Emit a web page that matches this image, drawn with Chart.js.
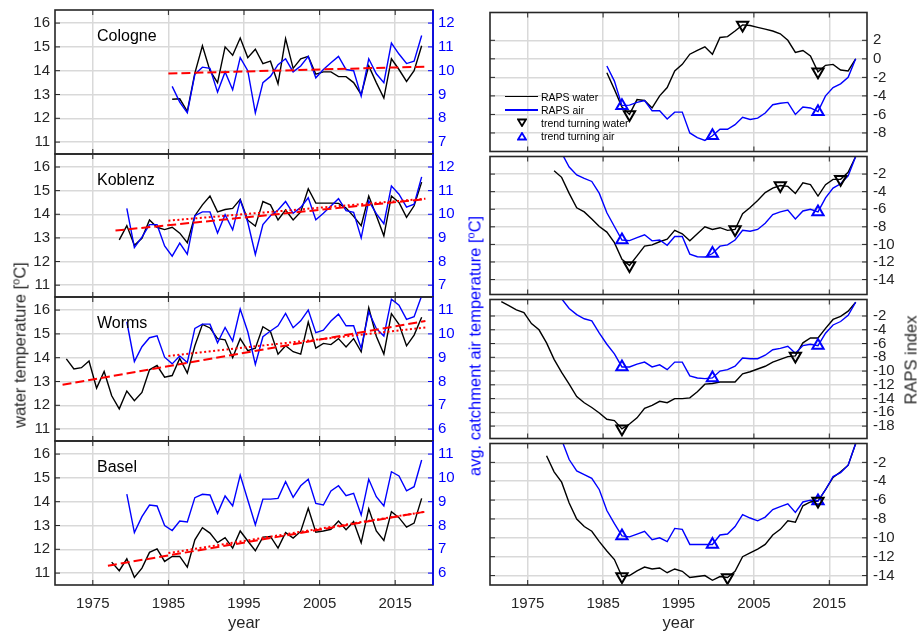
<!DOCTYPE html>
<html>
<head>
<meta charset="utf-8">
<script src="https://cdn.jsdelivr.net/npm/chart.js@4.4.0/dist/chart.umd.min.js"></script>
<style>
  body { margin: 0; background: #fff; }
  #fig { position: relative; width: 919px; height: 633px; font-family: 'Liberation Sans', Arial, sans-serif; color: #262626; overflow: hidden; }
  #fig canvas { position: absolute; }
  .lbl { position: absolute; font-size: 16.5px; line-height: 19px; white-space: nowrap; }
  .rot { transform: translate(-50%, -50%) rotate(-90deg); }
  .lbl sup { font-size: 11px; line-height: 0; }
  .name { font-size: 16px; color: #000; }
  #legend { position: absolute; left: 505px; top: 90px; font-size: 10.5px; color: #000; }
  #legend .row { display: flex; align-items: center; height: 13.2px; }
  #legend .sym { width: 33px; margin-right: 3px; display: flex; justify-content: center; align-items: center; }
  #legend .ln { width: 33px; height: 1.5px; }
</style>
</head>
<body>
<div id="fig"></div>
<script>
// ===== Data (annual values, plotted at mid-year) =====
const xTicks = [1975, 1985, 1995, 2005, 2015];
const trendEnd = 2019;
const since85 = 1985;

// Cologne
const cologneWaterStart = 1985;
const cologneWater = [12.8, 12.82, 12.29, 13.9, 15.05, 14.0, 13.5, 15.0, 14.65, 15.37, 14.55, 14.9, 14.3, 14.4, 13.45, 15.35, 14.1, 14.5, 14.6, 13.85, 13.95, 13.95, 13.75, 13.75, 13.5, 13.0, 14.2, 13.5, 12.85, 14.5, 14.05, 13.55, 14.0, 15.05];
const cologneAirStart = 1985;
const cologneAir = [9.34, 8.68, 8.23, 9.85, 10.15, 10.1, 9.1, 9.95, 9.2, 10.55, 10.0, 8.23, 9.5, 9.76, 10.25, 10.5, 9.95, 10.2, 10.6, 9.7, 10.05, 10.33, 10.6, 10.05, 10.0, 8.93, 10.5, 9.87, 9.5, 11.16, 10.7, 10.3, 10.4, 11.48];
const cologneTrend = [13.88, 14.17];
const cologneRapsWater = [-1.5, -3.3, -5.2, -6.0, -4.4, -4.5, -5.3, -4.0, -3.1, -1.3, -0.6, 0.5, 0.9, 1.3, 0.5, 2.3, 2.4, 3.0, 3.66, 3.6, 3.4, 3.2, 3.0, 2.7, 2.0, 0.7, 0.9, 0.3, -1.4, -0.7, -0.6, -1.2, -1.3, 0];
const cologneRapsAir = [-0.77, -2.4, -5.05, -5.0, -4.7, -4.5, -5.6, -5.6, -6.5, -5.75, -5.75, -8.0, -8.5, -8.8, -8.3, -7.6, -7.6, -7.1, -6.3, -6.55, -6.4, -5.85, -4.95, -4.8, -4.7, -6.0, -5.2, -5.3, -5.7, -4.0, -3.1, -2.7, -2.0, 0];
const cologneTurnWater = [1988, 2003, 2013];
const cologneTurnAir = [1987, 1999, 2013];

// Koblenz
const koblenzWaterStart = 1978;
const koblenzWater = [12.92, 13.52, 12.69, 12.98, 13.76, 13.45, 13.35, 13.45, 13.2, 12.8, 13.94, 14.4, 14.77, 14.1, 14.2, 14.25, 14.63, 13.75, 13.5, 14.54, 14.4, 13.76, 14.18, 13.76, 14.1, 15.08, 14.47, 14.47, 14.47, 14.46, 14.26, 13.91, 13.52, 14.77, 13.95, 13.09, 14.77, 14.5, 13.87, 14.36, 15.36];
const koblenzAirStart = 1979;
const koblenzAir = [10.25, 8.59, 9.03, 9.56, 9.56, 8.66, 8.23, 8.78, 8.31, 9.94, 10.1, 10.1, 9.21, 9.98, 9.34, 10.6, 9.66, 8.3, 9.56, 9.94, 10.18, 10.54, 10.04, 10.29, 10.7, 9.77, 10.04, 10.35, 10.66, 10.15, 10.08, 9.0, 10.57, 10.03, 9.6, 11.2, 10.85, 10.3, 10.43, 11.58];
const koblenzTrend = [13.31, 14.64];
const koblenzTrend85 = [13.73, 14.66];
const koblenzRapsWater = [-1.63, -2.37, -4.2, -5.84, -6.3, -7.1, -7.96, -8.6, -9.8, -11.7, -12.4, -11.3, -10.2, -10.05, -9.7, -9.4, -8.4, -8.8, -9.6, -8.8, -8.0, -8.3, -8.1, -8.4, -8.3, -6.5, -5.8, -5.0, -4.1, -3.6, -3.3, -3.4, -4.2, -3.0, -3.2, -4.5, -3.2, -2.6, -2.6, -1.8, 0];
const koblenzRapsAir = [0.4, -1.2, -2.1, -2.5, -2.84, -4.2, -6.4, -7.96, -9.5, -9.57, -9.24, -8.9, -9.6, -9.5, -10.1, -9.1, -9.1, -11.1, -11.4, -11.44, -11.04, -10.2, -10.05, -9.5, -8.4, -8.5, -8.3, -7.6, -6.6, -6.3, -6.1, -7.1, -6.2, -6.0, -6.3, -4.7, -3.6, -3.1, -2.2, 0];
const koblenzTurnWater = [1988, 2002, 2008, 2016];
const koblenzTurnAir = [1987, 1999, 2013];

// Worms
const wormsWaterStart = 1971;
const wormsWater = [13.95, 13.53, 13.58, 13.86, 12.72, 13.42, 12.4, 11.85, 12.6, 12.19, 12.54, 13.49, 13.67, 13.18, 13.25, 13.97, 13.35, 14.5, 15.4, 15.25, 14.8, 14.75, 14.0, 14.8, 14.3, 14.4, 15.3, 15.1, 14.15, 14.5, 14.25, 14.15, 15.5, 14.4, 14.6, 14.55, 14.8, 14.45, 14.8, 14.25, 16.1, 14.9, 14.15, 15.85, 15.4, 14.5, 14.95, 15.7];
const wormsAirStart = 1979;
const wormsAir = [10.51, 8.84, 9.46, 9.84, 9.92, 9.02, 8.74, 9.07, 8.8, 10.23, 10.41, 10.41, 9.63, 10.27, 9.7, 11.04, 10.09, 8.72, 9.88, 10.12, 10.34, 10.86, 10.26, 10.55, 11.0, 10.05, 10.16, 10.54, 10.83, 10.34, 10.34, 9.39, 10.93, 10.23, 9.91, 11.46, 11.21, 10.61, 10.72, 11.6];
const wormsTrend = [12.86, 15.54];
const wormsTrend85 = [14.07, 15.27];
const wormsRapsWater = [0.1, -0.5, -1.1, -1.5, -3.1, -4.0, -5.9, -8.3, -10.2, -11.9, -13.7, -14.6, -15.3, -16.1, -17.0, -17.2, -18.4, -17.7, -16.8, -15.4, -15.0, -14.4, -14.6, -14.0, -14.0, -13.9, -13.0, -11.9, -11.8, -11.6, -11.6, -11.6, -10.4, -10.1, -9.7, -9.3, -8.7, -8.3, -7.9, -7.8, -5.9, -5.2, -5.2, -3.8, -2.5, -2.05, -1.3, 0];
const wormsRapsAir = [0.5, -0.9, -1.8, -2.4, -2.7, -4.5, -6.1, -7.5, -9.4, -9.4, -9.0, -8.7, -9.4, -9.1, -9.8, -8.7, -8.7, -10.7, -11.0, -11.1, -11.0, -10.0, -9.8, -9.3, -8.1, -8.2, -8.2, -7.7, -6.9, -6.7, -6.4, -7.4, -6.3, -6.1, -6.3, -4.5, -3.3, -2.8, -1.9, 0];
const wormsTurnWater = [1987, 2010];
const wormsTurnAir = [1987, 1999, 2013];

// Basel
const baselWaterStart = 1977;
const baselWater = [11.46, 11.1, 11.6, 10.82, 11.21, 11.87, 12.02, 11.49, 11.7, 11.7, 11.25, 12.4, 12.91, 12.68, 12.28, 12.49, 12.05, 12.77, 12.35, 11.94, 12.51, 12.54, 12.05, 12.7, 12.47, 12.75, 13.72, 12.72, 12.77, 12.84, 13.19, 12.82, 13.16, 12.28, 13.7, 12.77, 12.37, 13.58, 13.33, 12.93, 13.1, 14.14];
const baselAirStart = 1979;
const baselAir = [9.32, 7.7, 8.37, 8.86, 8.82, 8.0, 7.79, 8.19, 8.15, 9.17, 9.31, 9.28, 8.51, 9.24, 8.82, 10.12, 9.07, 8.03, 9.11, 9.11, 9.14, 9.84, 9.18, 9.67, 9.94, 8.93, 8.86, 9.45, 9.67, 9.25, 9.35, 8.44, 9.94, 9.21, 8.82, 10.26, 10.08, 9.46, 9.63, 10.75];
const baselTrend = [11.31, 13.58];
const baselTrend85 = [11.84, 13.58];
const baselRapsWater = [-1.3, -3.0, -4.1, -6.3, -8.0, -8.8, -9.3, -10.4, -11.4, -12.3, -14.1, -14.0, -13.5, -13.1, -13.3, -13.2, -13.7, -13.3, -13.55, -14.2, -14.1, -14.0, -14.5, -14.1, -14.2, -13.55, -12.0, -11.6, -11.2, -10.7, -9.7, -9.1, -8.2, -8.35, -6.6, -6.2, -6.1, -4.9, -3.6, -3.0, -2.3, 0];
const baselRapsAir = [0.4, -1.7, -2.9, -3.3, -3.7, -4.9, -7.1, -8.5, -9.8, -9.9, -9.6, -9.3, -10.2, -10.0, -10.4, -9.0, -9.1, -10.7, -10.7, -10.7, -10.7, -9.7, -9.6, -8.8, -7.55, -7.9, -8.2, -7.8, -7.0, -6.7, -6.4, -7.3, -6.2, -6.0, -6.1, -4.9, -3.5, -3.1, -2.3, 0];
const baselTurnWater = [1987, 2001, 2013];
const baselTurnAir = [1987, 1999, 2013];

// axis ticks
const waterTicks = [11, 12, 13, 14, 15, 16];
const airTicksHigh = [7, 8, 9, 10, 11, 12];
const airTicksLow = [6, 7, 8, 9, 10, 11];
const rapsTicks1 = [-8, -6, -4, -2, 0, 2];
const rapsTicks2 = [-14, -12, -10, -8, -6, -4, -2];
const rapsTicks3 = [-18, -16, -14, -12, -10, -8, -6, -4, -2];
const rapsTicks4 = [-14, -12, -10, -8, -6, -4, -2];

// ===== Colors =====
const colors = {
    water: '#000000',
    air: '#0000ff',
    trend: '#ff0000',
    axis: '#262626',
    grid: '#d9d9d9'
};

// ===== Panel table =====
const stations = [
    { name: 'Cologne', wStart: cologneWaterStart, water: cologneWater, aStart: cologneAirStart, air: cologneAir,
      trend: cologneTrend, trend85: null, airMin: 6.5, airTicks: airTicksHigh,
      rW: cologneRapsWater, rA: cologneRapsAir, tW: cologneTurnWater, tA: cologneTurnAir, rMin: -10, rMax: 5, rTicks: rapsTicks1 },
    { name: 'Koblenz', wStart: koblenzWaterStart, water: koblenzWater, aStart: koblenzAirStart, air: koblenzAir,
      trend: koblenzTrend, trend85: koblenzTrend85, airMin: 6.5, airTicks: airTicksHigh,
      rW: koblenzRapsWater, rA: koblenzRapsAir, tW: koblenzTurnWater, tA: koblenzTurnAir, rMin: -15.7, rMax: 0, rTicks: rapsTicks2 },
    { name: 'Worms', wStart: wormsWaterStart, water: wormsWater, aStart: wormsAirStart, air: wormsAir,
      trend: wormsTrend, trend85: wormsTrend85, airMin: 5.5, airTicks: airTicksLow,
      rW: wormsRapsWater, rA: wormsRapsAir, tW: wormsTurnWater, tA: wormsTurnAir, rMin: -19.8, rMax: 0.4, rTicks: rapsTicks3 },
    { name: 'Basel', wStart: baselWaterStart, water: baselWater, aStart: baselAirStart, air: baselAir,
      trend: baselTrend, trend85: baselTrend85, airMin: 5.5, airTicks: airTicksLow,
      rW: baselRapsWater, rA: baselRapsAir, tW: baselTurnWater, tA: baselTurnAir, rMin: -15, rMax: 0, rTicks: rapsTicks4 }
];

// ===== Layout (pixels) =====
const panelTop = [10, 154, 297, 441];
const panelBottom = [154, 297, 441, 585];
const pad = 6;
const waterSpan = 6.05;

Chart.defaults.font.family = "'Liberation Sans', Arial, sans-serif";
Chart.defaults.font.size = 15;
Chart.defaults.color = colors.axis;

function pts(start, vals) {
    return vals.map((v, i) => ({ x: start + i + 0.5, y: v }));
}

function pick(start, vals, years) {
    return years.map(yr => ({ x: yr + 0.5, y: vals[yr - start] }));
}

// ===== Box + inward ticks =====
const framePlugin = {
    id: 'frame',
    afterDatasetsDraw(chart, args, o) {
        const { ctx, chartArea: a, scales } = chart;
        const tl = 5;
        ctx.save();
        ctx.lineWidth = 1;
        ctx.strokeStyle = colors.axis;
        ctx.beginPath();
        scales.x.ticks.forEach(t => {
            const px = scales.x.getPixelForValue(t.value);
            ctx.moveTo(px, a.bottom); ctx.lineTo(px, a.bottom - tl);
            ctx.moveTo(px, a.top); ctx.lineTo(px, a.top + tl);
        });
        const yl = scales.y;
        yl.ticks.forEach(t => {
            const py = yl.getPixelForValue(t.value);
            ctx.moveTo(a.left, py); ctx.lineTo(a.left + tl, py);
            if (o.mirror) { ctx.moveTo(a.right, py); ctx.lineTo(a.right - tl, py); }
        });
        ctx.stroke();
        if (scales.y1) {
            ctx.strokeStyle = colors.air;
            ctx.beginPath();
            scales.y1.ticks.forEach(t => {
                const py = scales.y1.getPixelForValue(t.value);
                ctx.moveTo(a.right, py); ctx.lineTo(a.right - tl, py);
            });
            ctx.stroke();
        }
        ctx.lineWidth = 1.6;
        ctx.strokeStyle = colors.axis;
        ctx.strokeRect(a.left, a.top, a.right - a.left, a.bottom - a.top);
        if (scales.y1) {
            ctx.strokeStyle = colors.air;
            ctx.beginPath();
            ctx.moveTo(a.right, a.top); ctx.lineTo(a.right, a.bottom);
            ctx.stroke();
        }
        ctx.restore();
    }
};

function xScale(bottom) {
    return {
        type: 'linear', min: 1970, max: 2020,
        afterBuildTicks: s => { s.ticks = xTicks.map(v => ({ value: v })); },
        afterFit: s => { s.height = bottom ? 48 : 0; s.paddingLeft = 0; s.paddingRight = 0; },
        grid: { color: colors.grid, lineWidth: 1.5, drawTicks: false },
        border: { display: false },
        ticks: { display: bottom, padding: 10, autoSkip: false, maxRotation: 0, callback: v => String(v) },
        title: { display: bottom, text: 'year', font: { size: 16.5 }, padding: { top: 0, bottom: 0 } }
    };
}

function yScale(min, max, ticks, position, color, grid, width, padding) {
    return {
        type: 'linear', position, min, max,
        afterBuildTicks: s => { s.ticks = ticks.map(v => ({ value: v })); },
        afterFit: s => { s.width = width; s.paddingTop = 0; s.paddingBottom = 0; },
        grid: { display: grid, color: colors.grid, lineWidth: 1.5, drawTicks: false },
        border: { display: false },
        ticks: { color, padding, autoSkip: false }
    };
}

function lineSet(data, color, width, axis, dash) {
    return {
        data, borderColor: color, borderWidth: width, borderDash: dash || [],
        pointRadius: 0, tension: 0, fill: false, yAxisID: axis
    };
}

function markerSet(data, color, rotation) {
    return {
        data, showLine: false, pointStyle: 'triangle', pointRotation: rotation,
        pointRadius: 6.5, pointBorderWidth: 2, pointBorderColor: color,
        pointBackgroundColor: 'rgba(0,0,0,0)', borderColor: color, yAxisID: 'y'
    };
}

const fig = document.getElementById('fig');

function makeCanvas(left, top, w, h) {
    const c = document.createElement('canvas');
    c.width = w; c.height = h;
    c.style.left = left + 'px';
    c.style.top = top + 'px';
    c.style.width = w + 'px';
    c.style.height = h + 'px';
    fig.appendChild(c);
    return c;
}

stations.forEach((st, i) => {
    const bottom = i === stations.length - 1;
    const top = panelTop[i] - pad;
    const h = bottom ? 633 - top : panelBottom[i] - panelTop[i] + 2 * pad;

    // --- left: temperatures ---
    const leftSets = [
        lineSet([{ x: st.wStart, y: st.trend[0] }, { x: trendEnd, y: st.trend[1] }], colors.trend, 2, 'y', [9, 4])
    ];
    if (st.trend85) {
        leftSets.push(lineSet([{ x: since85, y: st.trend85[0] }, { x: trendEnd, y: st.trend85[1] }], colors.trend, 2, 'y', [2, 2.5]));
    }
    leftSets.push(lineSet(pts(st.aStart, st.air), colors.air, 1.4, 'y1'));
    leftSets.push(lineSet(pts(st.wStart, st.water), colors.water, 1.4, 'y'));

    new Chart(makeCanvas(0, top, 480, h), {
        type: 'line',
        data: { datasets: leftSets },
        options: {
            responsive: false, animation: false,
            layout: { padding: { top: pad, bottom: bottom ? 0 : pad, left: 0, right: 0 } },
            plugins: { legend: { display: false }, tooltip: { enabled: false }, frame: {} },
            scales: {
                x: xScale(bottom),
                y: yScale(10.5, 10.5 + waterSpan, waterTicks, 'left', colors.axis, true, 55, 5),
                y1: yScale(st.airMin, st.airMin + waterSpan, st.airTicks, 'right', colors.air, false, 47, 5)
            }
        },
        plugins: [framePlugin]
    });

    // --- right: RAPS ---
    const rightSets = [
        markerSet(pick(st.wStart, st.rW, st.tW), colors.water, 180),
        markerSet(pick(st.aStart, st.rA, st.tA), colors.air, 0),
        lineSet(pts(st.aStart, st.rA), colors.air, 1.4, 'y'),
        lineSet(pts(st.wStart, st.rW), colors.water, 1.4, 'y')
    ];
    new Chart(makeCanvas(480, top, 439, h), {
        type: 'line',
        data: { datasets: rightSets },
        options: {
            responsive: false, animation: false,
            layout: { padding: { top: pad, bottom: bottom ? 0 : pad, left: 10, right: 0 } },
            plugins: { legend: { display: false }, tooltip: { enabled: false }, frame: { mirror: true } },
            scales: {
                x: xScale(bottom),
                y: yScale(st.rMin, st.rMax, st.rTicks, 'right', colors.axis, true, 52, 6)
            }
        },
        plugins: [framePlugin]
    });

    const lab = document.createElement('div');
    lab.className = 'lbl name';
    lab.style.left = '97px';
    lab.style.top = (panelTop[i] + 16) + 'px';
    lab.textContent = st.name;
    fig.appendChild(lab);
});

// ===== Axis labels and legend =====
fig.insertAdjacentHTML('beforeend', `
  <div class="lbl rot" style="left:20px; top:345px;">water temperature [<sup>o</sup>C]</div>
  <div class="lbl rot" style="left:475px; top:346px; color:${colors.air};">avg. catchment air temperature [<sup>o</sup>C]</div>
  <div class="lbl rot" style="left:911px; top:360px;">RAPS index</div>
  <div id="legend">
    <div class="row"><span class="sym"><span class="ln" style="background:#000"></span></span>RAPS water</div>
    <div class="row"><span class="sym"><span class="ln" style="background:${colors.air}"></span></span>RAPS air</div>
    <div class="row"><span class="sym"><svg width="10" height="9"><polygon points="1,1.5 9,1.5 5,8" fill="none" stroke="#000" stroke-width="1.8"/></svg></span>trend turning water</div>
    <div class="row"><span class="sym"><svg width="10" height="9"><polygon points="1,7.5 9,7.5 5,1" fill="none" stroke="${colors.air}" stroke-width="1.8"/></svg></span>trend turning air</div>
  </div>
`);
</script>
</body>
</html>
